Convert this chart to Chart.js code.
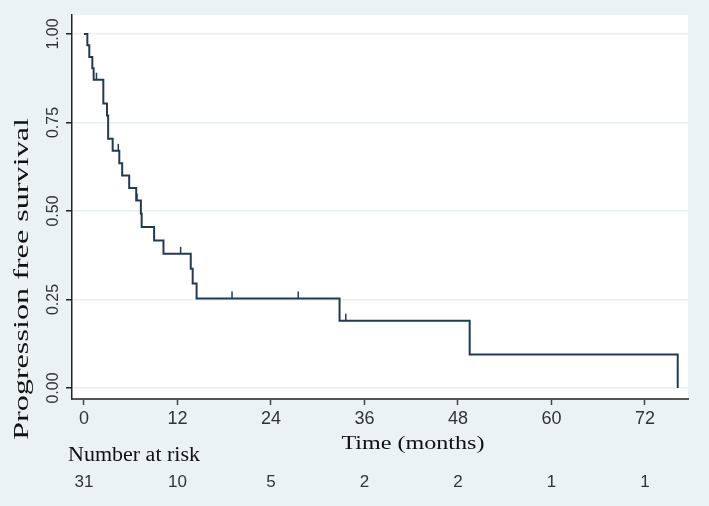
<!DOCTYPE html>
<html><head><meta charset="utf-8">
<script src="https://cdn.jsdelivr.net/npm/chart.js@4.4.1/dist/chart.umd.min.js"></script>
<style>html,body{margin:0;padding:0;background:#eaf2f3;overflow:hidden}#wrap{width:709px;height:506px}</style>
</head><body><div id="wrap"><canvas id="c" width="709" height="506"></canvas></div>
<script>
const eventTimes = [0, 0.43, 0.68, 1.07, 1.24, 2.48, 2.95, 3.1, 3.68, 4.53, 4.9, 5.8, 6.7, 7.3, 7.4, 9.0, 10.2, 13.7, 13.95, 14.45, 32.8, 49.5, 76.2];
const survival = [1.000, 0.968, 0.935, 0.903, 0.871, 0.804, 0.770, 0.704, 0.670, 0.635, 0.600, 0.565, 0.530, 0.492, 0.455, 0.417, 0.379, 0.337, 0.295, 0.253, 0.190, 0.095, 0.000];
const censorTimes = [1.6, 4.4, 6.8, 12.4, 19.0, 27.5, 33.6];
const censorSurvival = [0.871, 0.670, 0.530, 0.379, 0.253, 0.253, 0.190];
const xTicks = [0, 12, 24, 36, 48, 60, 72];
const yTicks = [0, 0.25, 0.5, 0.75, 1];
const yTickLabels = ['0.00', '0.25', '0.50', '0.75', '1.00'];
const numberAtRisk = [31, 10, 5, 2, 2, 1, 1];
const yTitle = 'Progression free survival';
const xTitle = 'Time (months)';
const riskTitle = 'Number at risk';

const LINE = '#213a56';

function drawText(ctx, text, x, y, font, color, targetLen, rot, align) {
  ctx.save();
  ctx.font = font;
  ctx.fillStyle = color;
  const w = ctx.measureText(text).width;
  const s = targetLen ? targetLen / w : 1;
  ctx.translate(x, y);
  ctx.rotate(rot);
  ctx.scale(s, 1);
  ctx.textAlign = align;
  ctx.textBaseline = 'alphabetic';
  ctx.fillText(text, 0, 0);
  ctx.restore();
}

const bgPlugin = {
  id: 'bg',
  beforeDraw(chart) {
    const ctx = chart.ctx, a = chart.chartArea;
    ctx.save();
    ctx.fillStyle = '#eaf2f3';
    ctx.fillRect(0, 0, chart.width, chart.height);
    ctx.fillStyle = '#ffffff';
    ctx.fillRect(a.left, a.top, a.right - a.left, a.bottom - a.top);
    ctx.restore();
  }
};

const censorPlugin = {
  id: 'censor',
  afterDatasetsDraw(chart) {
    const ctx = chart.ctx, xs = chart.scales.x, ys = chart.scales.y;
    ctx.save();
    ctx.strokeStyle = LINE;
    ctx.lineWidth = 1.5;
    censorTimes.forEach((t, i) => {
      const px = xs.getPixelForValue(t), py = ys.getPixelForValue(censorSurvival[i]);
      ctx.beginPath();
      ctx.moveTo(px, py);
      ctx.lineTo(px, py - 7);
      ctx.stroke();
    });
    ctx.restore();
  }
};

const textPlugin = {
  id: 'texts',
  afterDraw(chart) {
    const ctx = chart.ctx, xs = chart.scales.x, ys = chart.scales.y;
    yTicks.forEach((v, i) => {
      drawText(ctx, yTickLabels[i], 58, ys.getPixelForValue(v), '16px "Liberation Sans"', '#333', 0, -Math.PI / 2, 'center');
    });
    drawText(ctx, yTitle, 27.5, 279, '21px "Liberation Serif"', '#111', 322, -Math.PI / 2, 'center');
    drawText(ctx, xTitle, 413, 449, '19px "Liberation Serif"', '#111', 143, 0, 'center');
    drawText(ctx, riskTitle, 68, 461, '20px "Liberation Serif"', '#111', 132, 0, 'left');
    xTicks.forEach((v, i) => {
      drawText(ctx, String(numberAtRisk[i]), xs.getPixelForValue(v), 487, '17px "Liberation Sans"', '#333', 0, 0, 'center');
    });
  }
};

new Chart(document.getElementById('c'), {
  type: 'line',
  data: {
    datasets: [{
      data: eventTimes.map((t, i) => ({ x: t, y: survival[i] })),
      stepped: true,
      borderColor: LINE,
      borderWidth: 2,
      pointRadius: 0,
      fill: false
    }]
  },
  options: {
    responsive: false,
    animation: false,
    layout: { padding: { left: 0, top: 15, right: 21, bottom: 0 } },
    plugins: { legend: { display: false }, tooltip: { enabled: false } },
    scales: {
      x: {
        type: 'linear',
        min: -1.54,
        max: 77.52,
        afterBuildTicks(s) { s.ticks = xTicks.map(v => ({ value: v })); },
        afterFit(s) { s.height = 107; },
        grid: { drawOnChartArea: false, drawTicks: true, tickLength: 6, tickColor: '#444', tickWidth: 1.5 },
        border: { display: true, color: '#555', width: 2 },
        ticks: { font: { family: 'Liberation Sans', size: 18 }, color: '#333', padding: 3, maxRotation: 0, autoSkip: false }
      },
      y: {
        type: 'linear',
        min: -0.031,
        max: 1.0537,
        afterBuildTicks(s) { s.ticks = yTicks.map(v => ({ value: v })); },
        afterFit(s) { s.width = 72; },
        grid: { color: '#e9f0f2', lineWidth: 1.5, drawTicks: true, tickLength: 6, tickColor: '#222', tickWidth: 1.5 },
        border: { display: true, color: '#222', width: 1.5 },
        ticks: { display: false }
      }
    }
  },
  plugins: [bgPlugin, censorPlugin, textPlugin]
});
</script>
</body></html>
